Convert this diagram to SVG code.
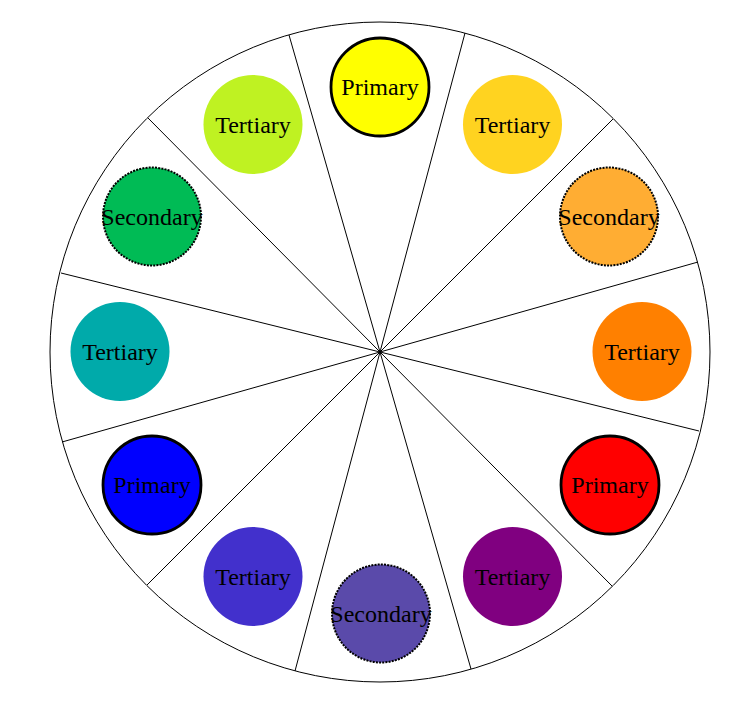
<svg xmlns="http://www.w3.org/2000/svg" width="752" height="703" viewBox="0 0 752 703">
<style>
.ln{stroke:#000;stroke-width:1;fill:none}
.p{stroke:#000;stroke-width:2.8}
.s{stroke:#000;stroke-width:2;stroke-dasharray:2 1.2}
.t{stroke:none}
text{font-family:"Liberation Serif","Times New Roman",serif;font-size:24px;text-anchor:middle;fill:#000}
</style>
<rect width="752" height="703" fill="#fff"/>
<g id="wheel">
<circle class="ln" cx="380" cy="352" r="330"/>
</g>
<g id="connectors">
<line class="ln" x1="289" y1="35" x2="471" y2="669"/>
<line class="ln" x1="465" y1="33" x2="295" y2="671"/>
<line class="ln" x1="148" y1="118" x2="612" y2="586"/>
<line class="ln" x1="613" y1="119" x2="147" y2="585"/>
<line class="ln" x1="61" y1="273" x2="699" y2="431"/>
<line class="ln" x1="698" y1="262" x2="62" y2="442"/>
</g>
<g id="yellow"><circle class="p" cx="380" cy="87" r="49" fill="#ffff00"/><text x="380" y="95">Primary</text></g>
<g id="yellow-orange"><circle class="t" cx="512.5" cy="124.5" r="49.5" fill="#ffd320"/><text x="512.5" y="132.5">Tertiary</text></g>
<g id="orange-sec"><circle class="s" cx="609" cy="216.5" r="49" fill="#ffad33"/><text x="609" y="224.5">Secondary</text></g>
<g id="orange"><circle class="t" cx="642" cy="351.5" r="49.5" fill="#ff8000"/><text x="642" y="359.5">Tertiary</text></g>
<g id="red"><circle class="p" cx="610" cy="485" r="49" fill="#ff0000"/><text x="610" y="493">Primary</text></g>
<g id="purple"><circle class="t" cx="512.5" cy="576.5" r="49.5" fill="#800080"/><text x="512.5" y="584.5">Tertiary</text></g>
<g id="violet-sec"><circle class="s" cx="381" cy="613.5" r="49" fill="#5a4aaa"/><text x="381" y="621.5">Secondary</text></g>
<g id="blue-violet"><circle class="t" cx="253" cy="576.5" r="49.5" fill="#4230cc"/><text x="253" y="584.5">Tertiary</text></g>
<g id="blue"><circle class="p" cx="152" cy="485" r="49" fill="#0000ff"/><text x="152" y="493">Primary</text></g>
<g id="teal"><circle class="t" cx="120" cy="351.5" r="49.5" fill="#00aaaa"/><text x="120" y="359.5">Tertiary</text></g>
<g id="green-sec"><circle class="s" cx="152" cy="216.5" r="49" fill="#00bb55"/><text x="152" y="224.5">Secondary</text></g>
<g id="yellow-green"><circle class="t" cx="253" cy="124.5" r="49.5" fill="#bff222"/><text x="253" y="132.5">Tertiary</text></g>
</svg>
